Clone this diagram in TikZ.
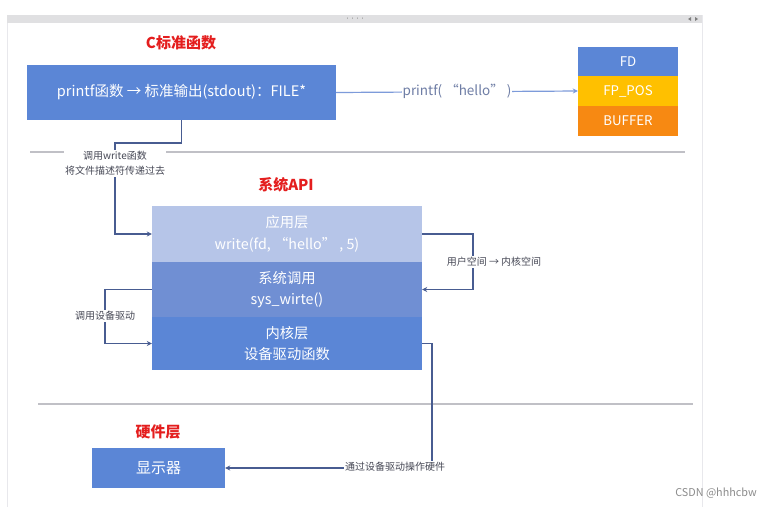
\documentclass[tikz,border=0pt]{standalone}
\usepackage{fontspec}
\setmainfont{Noto Sans CJK SC}
\usetikzlibrary{arrows.meta}
\definecolor{boxblue}{RGB}{91,134,214}
\definecolor{applight}{RGB}{182,197,232}
\definecolor{sysmid}{RGB}{112,143,211}
\definecolor{fpyellow}{RGB}{255,192,0}
\definecolor{buforange}{RGB}{247,137,18}
\definecolor{titlered}{RGB}{228,30,30}
\definecolor{connblue}{RGB}{72,92,145}
\definecolor{lightline}{RGB}{125,155,218}
\definecolor{lblblue}{RGB}{110,125,165}
\definecolor{sepgray}{RGB}{192,192,198}
\definecolor{bargray}{RGB}{224,224,226}
\definecolor{edgegray}{RGB}{232,232,236}
\definecolor{lbltext}{RGB}{70,72,85}
\begin{document}
\begin{tikzpicture}[x=1pt,y=-1pt,
  box/.style={fill=boxblue, text=white, inner sep=0pt, align=center,
    font=\fontsize{14.5}{21}\selectfont},
  stackbox/.style={inner sep=0pt, text=white, minimum width=100pt,
    font=\fontsize{13.3}{15}\selectfont},
  layer/.style={inner sep=0pt, text=white, align=center, minimum width=270pt,
    font=\fontsize{14.3}{21.5}\selectfont},
  title/.style={text=titlered, font=\fontsize{15}{17}\selectfont\bfseries},
  conn/.style={draw=connblue, line width=1.1pt, -{Stealth[length=5pt,width=5pt]}},
  lbl/.style={fill=white, inner sep=1pt, text=lbltext, align=center,
    font=\fontsize{10}{15}\selectfont},
  sep/.style={draw=sepgray, line width=1.2pt}]
\useasboundingbox (0,0) rectangle (771,507);
\fill[white] (0,0) rectangle (771,507);
% window chrome
\fill[bargray] (7,15) rectangle (702,23);
\draw[edgegray, line width=1pt] (7,23) -- (7,507);
\draw[edgegray, line width=1pt] (702,15) -- (702,507);
\node[text=gray, font=\fontsize{5}{6}\selectfont, inner sep=0pt] (dots) at (355,19) {····};
\fill[gray] (691,17) -- (688,19) -- (691,21) -- cycle;
\fill[gray] (695,17) -- (698,19) -- (695,21) -- cycle;
% separators
\draw[sep] (30,152) -- (685,152);
\draw[sep] (38,404) -- (693,404);
% titles
\node[title] (t1) at (181,43) {C标准函数};
\node[title] (t2) at (286,185) {系统API};
\node[title] (t3) at (158,432) {硬件层};
% C library box
\node[box, minimum width=309pt, minimum height=55pt] (printf) at (181.5,92.5)
  {printf函数 → 标准输出(stdout)：FILE*};
% FILE stack
\node[stackbox, fill=boxblue, minimum height=29pt] (fd) at (628,61.5) {FD};
\node[stackbox, fill=fpyellow, minimum height=30pt] (fppos) at (628,91) {FP\_POS};
\node[stackbox, fill=buforange, minimum height=30pt] (buffer) at (628,121) {BUFFER};
\draw[draw=lightline, line width=1.2pt, -{Stealth[length=5pt,width=5pt]}] (printf.east) --
  node[fill=white, inner sep=1pt, text=lblblue, font=\fontsize{13.5}{15}\selectfont] (pl) {printf( “hello” )}
  (fppos.west);
% system API layers
\node[layer, fill=applight, minimum height=56pt] (app) at (287,234) {应用层\\write(fd, “hello” , 5)};
\node[layer, fill=sysmid, minimum height=55pt] (sys) at (287,289.5) {系统调用\\sys\_wirte()};
\node[layer, fill=boxblue, minimum height=53pt] (kern) at (287,343.5) {内核层\\设备驱动函数};
% display
\node[box, minimum width=133pt, minimum height=40pt, font=\fontsize{15}{17}\selectfont] (disp) at (158.5,468) {显示器};
% connectors
\draw[conn] (printf.south) -- (181.5,143) -| (115,200) |- (app.west);
\node[lbl] (l1) at (115,163.5) {调用write函数\\将文件描述符传递过去};
\draw[conn] (app.east) -- (473,234) |- (sys.east);
\node[lbl] (l2) at (494,262) {用户空间 → 内核空间};
\draw[conn] (sys.west) -- (105,289.5) |- (kern.west);
\node[lbl] (l3) at (105,316) {调用设备驱动};
\draw[conn] (kern.east) -- (432,343.5) |- (disp.east);
\node[lbl] (l4) at (395,467) {通过设备驱动操作硬件};
% watermark
\node[text=gray!90, font=\fontsize{10.8}{12}\selectfont] (wm) at (716,493) {CSDN @hhhcbw};
\end{tikzpicture}
\end{document}
